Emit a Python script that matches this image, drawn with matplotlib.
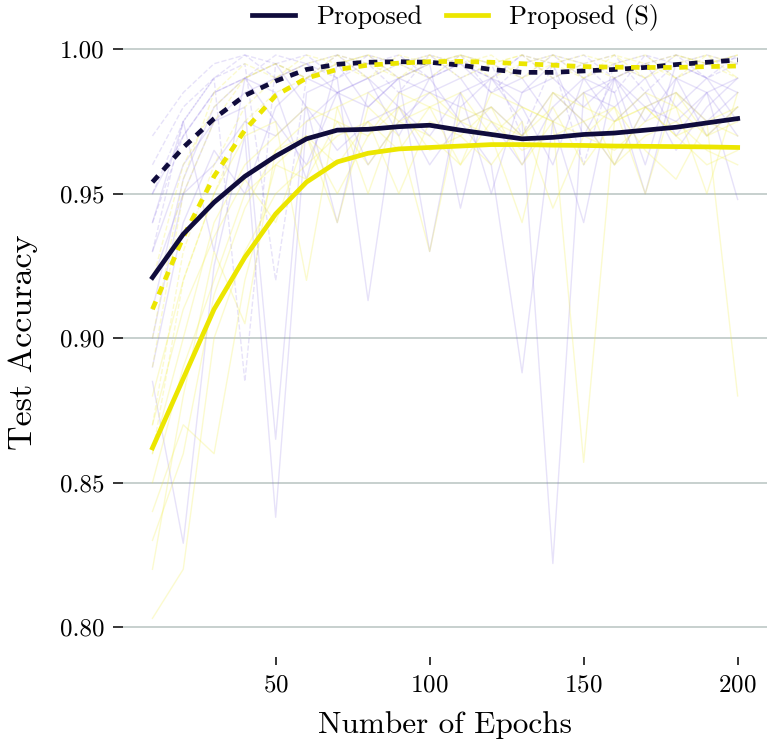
import numpy as np
import matplotlib
matplotlib.use("Agg")
import matplotlib.pyplot as plt

plt.rcParams['font.family'] = 'serif'
plt.rcParams['font.serif'] = ['cmr10']
plt.rcParams['axes.formatter.use_mathtext'] = True

# epochs (every 10)
epochs = [10, 20, 30, 40, 50, 60, 70, 80, 90, 100,
          110, 120, 130, 140, 150, 160, 170, 180, 190, 200]

# mean curves
proposed_test = [0.921, 0.936, 0.947, 0.956, 0.963, 0.969, 0.972, 0.9723, 0.9732, 0.9737,
                 0.972, 0.9705, 0.969, 0.9695, 0.9705, 0.971, 0.972, 0.973, 0.9745, 0.976]
proposed_best = [0.954, 0.966, 0.976, 0.984, 0.989, 0.993, 0.9948, 0.9955, 0.9957, 0.9955,
                 0.9945, 0.993, 0.992, 0.992, 0.9925, 0.993, 0.9937, 0.9947, 0.9955, 0.9963]
proposed_s_test = [0.862, 0.886, 0.910, 0.928, 0.943, 0.954, 0.961, 0.964, 0.9655, 0.966,
                   0.9665, 0.967, 0.967, 0.9668, 0.9667, 0.9665, 0.9664, 0.9663, 0.9662, 0.966]
proposed_s_best = [0.910, 0.935, 0.956, 0.972, 0.984, 0.990, 0.993, 0.9945, 0.9952, 0.9957,
                   0.9958, 0.9955, 0.995, 0.9945, 0.994, 0.9938, 0.9937, 0.9937, 0.994, 0.9942]

# individual runs (faint)
runs_p = [
    [0.885, 0.829, 0.925, 0.97, 0.838, 0.975, 0.985, 0.98, 0.99, 0.985, 0.98, 0.99, 0.975, 0.822, 0.985, 0.99, 0.98, 0.985, 0.975, 0.985],
    [0.93, 0.96, 0.975, 0.98, 0.865, 0.985, 0.99, 0.913, 0.985, 0.99, 0.975, 0.96, 0.888, 0.975, 0.985, 0.98, 0.99, 0.97, 0.985, 0.948],
    [0.95, 0.97, 0.985, 0.99, 0.995, 0.98, 0.94, 0.985, 0.99, 0.93, 0.985, 0.99, 0.98, 0.96, 0.99, 0.985, 0.95, 0.99, 0.985, 0.99],
    [0.90, 0.95, 0.975, 0.985, 0.99, 0.995, 0.985, 0.99, 0.97, 0.99, 0.995, 0.985, 0.99, 0.975, 0.94, 0.99, 0.995, 0.98, 0.99, 0.985],
    [0.94, 0.975, 0.93, 0.99, 0.985, 0.955, 0.995, 0.98, 0.99, 0.995, 0.945, 0.99, 0.985, 0.995, 0.97, 0.99, 0.96, 0.995, 0.99, 0.975],
    [0.92, 0.95, 0.96, 0.975, 0.97, 0.98, 0.965, 0.975, 0.98, 0.96, 0.975, 0.98, 0.97, 0.985, 0.975, 0.96, 0.98, 0.975, 0.985, 0.97],
    [0.89, 0.94, 0.965, 0.95, 0.98, 0.99, 0.985, 0.96, 0.975, 0.985, 0.99, 0.975, 0.96, 0.98, 0.99, 0.975, 0.985, 0.965, 0.98, 0.99],
    [0.91, 0.955, 0.98, 0.99, 0.975, 0.96, 0.985, 0.99, 0.98, 0.97, 0.985, 0.95, 0.985, 0.99, 0.98, 0.99, 0.975, 0.99, 0.97, 0.98],
]
runs_p_best = [
    [0.96, 0.98, 0.99, 0.995, 0.92, 0.99, 0.995, 0.998, 0.99, 0.995, 0.998, 0.985, 0.995, 0.998, 0.99, 0.995, 0.99, 0.998, 0.995, 0.998],
    [0.93, 0.975, 0.99, 0.885, 0.995, 0.998, 0.99, 0.995, 0.998, 0.99, 0.995, 0.99, 0.998, 0.995, 0.96, 0.995, 0.998, 0.99, 0.995, 0.997],
    [0.97, 0.985, 0.995, 0.998, 0.99, 0.995, 0.998, 0.99, 0.995, 0.998, 0.99, 0.995, 0.97, 0.995, 0.998, 0.99, 0.995, 0.998, 0.99, 0.995],
    [0.95, 0.975, 0.99, 0.998, 0.995, 0.99, 0.998, 0.995, 0.985, 0.998, 0.995, 0.99, 0.998, 0.99, 0.995, 0.998, 0.985, 0.995, 0.998, 0.995],
    [0.94, 0.97, 0.985, 0.99, 0.998, 0.995, 0.99, 0.998, 0.995, 0.99, 0.998, 0.995, 0.99, 0.998, 0.995, 0.985, 0.998, 0.995, 0.99, 0.998],
]
runs_s = [
    [0.803, 0.82, 0.90, 0.93, 0.95, 0.96, 0.97, 0.975, 0.965, 0.98, 0.975, 0.97, 0.98, 0.975, 0.857, 0.975, 0.98, 0.97, 0.975, 0.88],
    [0.84, 0.87, 0.86, 0.92, 0.96, 0.97, 0.94, 0.98, 0.97, 0.93, 0.98, 0.975, 0.97, 0.98, 0.96, 0.975, 0.98, 0.97, 0.96, 0.965],
    [0.88, 0.92, 0.95, 0.97, 0.975, 0.92, 0.98, 0.985, 0.975, 0.98, 0.985, 0.97, 0.94, 0.985, 0.975, 0.98, 0.95, 0.985, 0.97, 0.98],
    [0.86, 0.90, 0.94, 0.96, 0.97, 0.98, 0.975, 0.97, 0.985, 0.98, 0.96, 0.985, 0.98, 0.975, 0.985, 0.96, 0.98, 0.985, 0.975, 0.98],
    [0.82, 0.88, 0.93, 0.905, 0.965, 0.975, 0.98, 0.95, 0.98, 0.985, 0.975, 0.98, 0.97, 0.985, 0.98, 0.975, 0.985, 0.98, 0.95, 0.985],
    [0.85, 0.89, 0.92, 0.95, 0.96, 0.955, 0.975, 0.96, 0.975, 0.97, 0.96, 0.975, 0.965, 0.97, 0.975, 0.96, 0.97, 0.975, 0.965, 0.96],
    [0.87, 0.91, 0.935, 0.955, 0.94, 0.97, 0.96, 0.975, 0.95, 0.975, 0.97, 0.96, 0.975, 0.945, 0.97, 0.98, 0.965, 0.955, 0.975, 0.97],
    [0.83, 0.86, 0.915, 0.945, 0.965, 0.97, 0.95, 0.97, 0.98, 0.965, 0.97, 0.98, 0.96, 0.975, 0.97, 0.965, 0.975, 0.98, 0.97, 0.975],
]
runs_s_best = [
    [0.89, 0.95, 0.975, 0.99, 0.995, 0.99, 0.995, 0.998, 0.99, 0.995, 0.998, 0.995, 0.99, 0.998, 0.995, 0.99, 0.995, 0.998, 0.995, 0.99],
    [0.87, 0.93, 0.96, 0.98, 0.99, 0.995, 0.998, 0.99, 0.995, 0.998, 0.99, 0.995, 0.998, 0.995, 0.99, 0.998, 0.995, 0.99, 0.998, 0.995],
    [0.92, 0.96, 0.98, 0.99, 0.995, 0.99, 0.998, 0.995, 0.99, 0.998, 0.995, 0.998, 0.99, 0.995, 0.998, 0.995, 0.99, 0.998, 0.995, 0.998],
    [0.90, 0.955, 0.985, 0.995, 0.99, 0.998, 0.995, 0.99, 0.998, 0.995, 0.998, 0.99, 0.995, 0.998, 0.99, 0.995, 0.998, 0.99, 0.995, 0.998],
    [0.86, 0.92, 0.95, 0.975, 0.985, 0.99, 0.995, 0.998, 0.995, 0.99, 0.998, 0.995, 0.998, 0.99, 0.995, 0.998, 0.99, 0.995, 0.998, 0.99],
]

navy = '#100c3c'
yellow = '#ece600'
faint_p = '#7a60e0'
faint_y = '#f2ee40'

fig = plt.figure(figsize=(7.7, 7.47), dpi=100)
ax = fig.add_axes([0.16, 0.12, 0.836, 0.845])

# faint runs
for r in runs_p:
    ax.plot(epochs, r, color=faint_p, alpha=0.18, lw=1)
for r in runs_p_best:
    ax.plot(epochs, r, color=faint_p, alpha=0.18, lw=1, ls='--')
for r in runs_s:
    ax.plot(epochs, r, color=faint_y, alpha=0.25, lw=1)
for r in runs_s_best:
    ax.plot(epochs, r, color=faint_y, alpha=0.25, lw=1, ls='--')

# main curves
ax.plot(epochs, proposed_best, color=navy, lw=3.4, ls=(0, (1.8, 1.6)))
ax.plot(epochs, proposed_s_best, color=yellow, lw=3.4, ls=(0, (1.8, 1.6)))
ax.plot(epochs, proposed_test, color=navy, lw=3.4, label='Proposed')
ax.plot(epochs, proposed_s_test, color=yellow, lw=3.4, label='Proposed (S)')

ax.set_xlim(0.5, 209.5)
ax.set_ylim(0.7895, 1.008)
ax.set_xticks([50, 100, 150, 200])
ax.set_yticks([0.80, 0.85, 0.90, 0.95, 1.00])
ax.set_yticklabels(['0.80', '0.85', '0.90', '0.95', '1.00'])
ax.grid(axis='y', color='#c3cdca', lw=1.3)
ax.set_axisbelow(True)
for s in ax.spines.values():
    s.set_visible(False)
ax.tick_params(axis='both', labelsize=18, length=7, width=1.1, direction='out', pad=6.5)
ax.tick_params(axis='x', length=6)
ax.set_xlabel('Number of Epochs', fontsize=22.5, labelpad=10)
ax.set_ylabel('Test Accuracy', fontsize=24.5, labelpad=16)

fig.legend(loc='center', bbox_to_anchor=(0.592, 0.976), ncol=2, frameon=False,
           fontsize=19, handlelength=1.6, handletextpad=0.8, columnspacing=0.9)

fig.savefig('out.png', dpi=100)
